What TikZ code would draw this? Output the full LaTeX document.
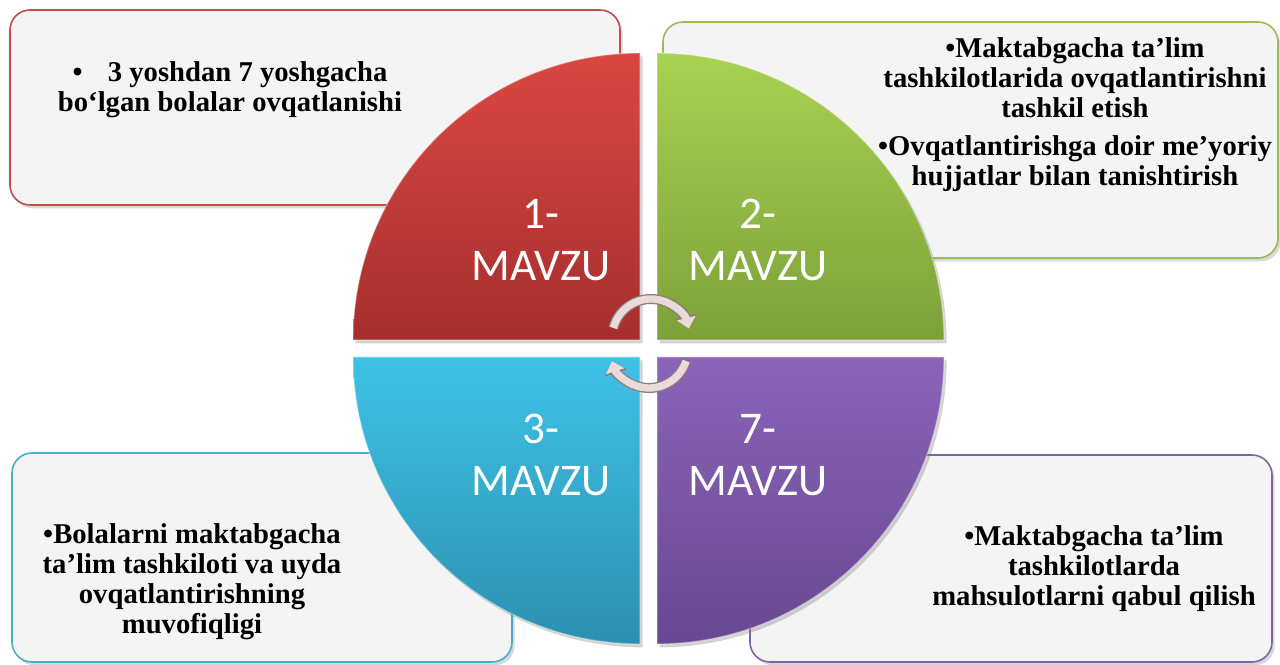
\documentclass[tikz,border=0pt]{standalone}
\usepackage{fontspec}
\setmainfont{Liberation Serif}
\newfontfamily\calibri{Carlito}
\usepackage{tikz}
\usetikzlibrary{shadows, fit, arrows.meta}

\definecolor{rojo}{HTML}{C0504D}
\definecolor{verde}{HTML}{9BBB59}
\definecolor{azul}{HTML}{4BACC6}
\definecolor{morado}{HTML}{8064A2}
\definecolor{gris}{HTML}{F4F4F4}
\definecolor{rosado}{HTML}{EBDADA}
\definecolor{borde}{HTML}{8E7E7E}
\definecolor{rojoA}{HTML}{DA4742}
\definecolor{rojoB}{HTML}{A52F2E}
\definecolor{verdeA}{HTML}{A8D252}
\definecolor{verdeB}{HTML}{7DA03A}
\definecolor{azulA}{HTML}{3EC2E6}
\definecolor{azulB}{HTML}{2C90B0}
\definecolor{moradoA}{HTML}{8B64BA}
\definecolor{moradoB}{HTML}{684890}

\tikzstyle{caja} = [rectangle, rounded corners=15pt, line width=1.2pt, fill=gris, inner sep=0pt, drop shadow={opacity=0.3, shadow xshift=2pt, shadow yshift=-2.5pt}]
\tikzstyle{solotexto} = [align=center, font=\bfseries\fontsize{21.5}{22.5}\selectfont]
\tikzstyle{mavzu} = [align=center, text=white, font=\calibri\fontsize{34}{39}\selectfont]
\tikzstyle{cuarto} = [draw=white, draw opacity=0.35, line width=1pt, drop shadow={opacity=0.35, shadow xshift=2pt, shadow yshift=-2.5pt}]
\tikzstyle{flecha} = [line width=5.5pt, draw=rosado, -{Triangle[length=8pt,width=14pt]}, preaction={draw=borde, line width=7.5pt, -{Triangle[length=9.5pt,width=17pt]}}]

\begin{document}
\begin{tikzpicture}[x=0.75pt, y=0.75pt]
        \useasboundingbox (0,0) rectangle (1280,664);
        \def\R{215.25pt}

        % cajas
        \node (caja1) [caja, draw=rojo, fit={(10,459) (620,654)}] {};
        \node (caja2) [caja, draw=verde, fit={(663,406) (1278,642)}] {};
        \node (caja3) [caja, draw=azul, fit={(12,2) (512,211)}] {};
        \node (caja4) [caja, draw=morado, fit={(750,2) (1272,209)}] {};

        \node (txt1) [solotexto] at (230,574) {\textbullet\hspace{19pt}3 yoshdan 7 yoshgacha\\bo‘lgan bolalar ovqatlanishi};
        \node (txt2) [solotexto] at (1075,549) {•Maktabgacha ta’lim\\tashkilotlarida ovqatlantirishni\\tashkil etish\\[6pt]•Ovqatlantirishga doir me’yoriy\\hujjatlar bilan tanishtirish};
        \node (txt3) [solotexto] at (192,82) {•Bolalarni maktabgacha\\ta’lim tashkiloti va uyda\\ovqatlantirishning\\muvofiqligi};
        \node (txt4) [solotexto] at (1094,95) {•Maktabgacha ta’lim\\tashkilotlarda\\mahsulotlarni qabul qilish};

        % cuartos del circulo
        \path [cuarto, top color=rojoA, bottom color=rojoB] (640,324) -- ++(-287,0) arc[start angle=180, end angle=90, radius=\R] -- cycle;
        \path [cuarto, top color=verdeA, bottom color=verdeB] (657,324) -- ++(0,287) arc[start angle=90, end angle=0, radius=\R] -- cycle;
        \path [cuarto, top color=azulA, bottom color=azulB] (640,307) -- ++(0,-287) arc[start angle=270, end angle=180, radius=\R] -- cycle;
        \path [cuarto, top color=moradoA, bottom color=moradoB] (657,307) -- ++(287,0) arc[start angle=0, end angle=-90, radius=\R] -- cycle;

        \node (m1) [mavzu] at (541,424) {1-\\MAVZU};
        \node (m2) [mavzu] at (758,424) {2-\\MAVZU};
        \node (m3) [mavzu] at (541,209) {3-\\MAVZU};
        \node (m4) [mavzu] at (758,209) {7-\\MAVZU};

        % flechas circulares
        \coordinate (giroA) at (651,326);
        \coordinate (giroB) at (649,315);
        \draw [flecha] ([shift={(165:29.25pt)}]giroA) arc[start angle=165, end angle=14, radius=29.25pt];
        \draw [flecha] ([shift={(-18:29.25pt)}]giroB) arc[start angle=-18, end angle=-162, radius=29.25pt];
    \end{tikzpicture}
\end{document}
